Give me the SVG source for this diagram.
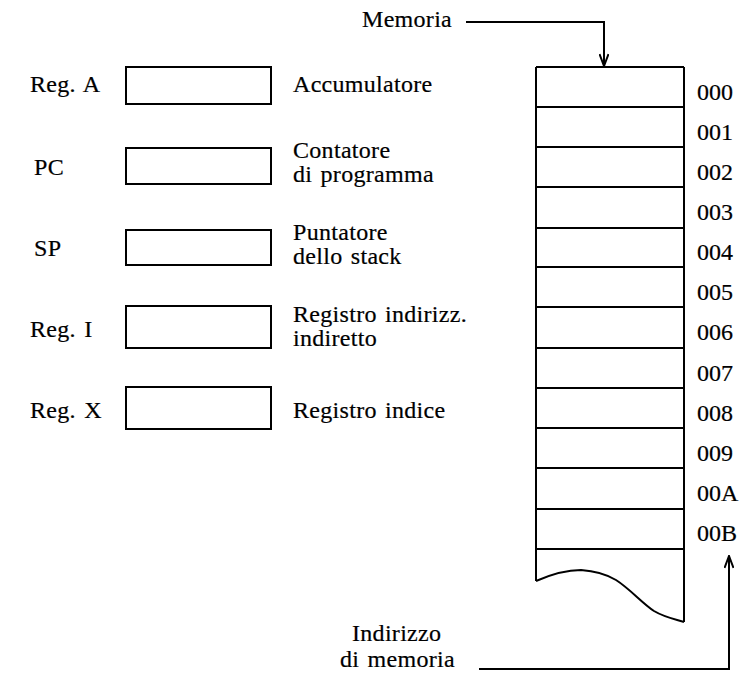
<svg xmlns="http://www.w3.org/2000/svg" width="752" height="691" viewBox="0 0 752 691">
  <style>
    text { font-family: "Liberation Serif", "Times New Roman", serif; font-size: 24px; fill: #000; stroke: #000; stroke-width: 0.2; letter-spacing: 0.3px; word-spacing: 2px; }
    .box { fill: #fff; stroke: #000; stroke-width: 2; }
    .ln { fill: none; stroke: #000; stroke-width: 2; }
    .addr { letter-spacing: 0; }
  </style>
  <defs>
    <marker id="arr" viewBox="0 0 14 10" refX="13" refY="5" markerWidth="14" markerHeight="10" markerUnits="userSpaceOnUse" orient="auto">
      <path d="M1,0.5 L13,5 L1,9.5" fill="none" stroke="#000" stroke-width="2"/>
    </marker>
  </defs>
  <rect width="752" height="691" fill="#fff"/>

  <!-- registers -->
  <g id="reg-a">
    <text x="30" y="92">Reg. A</text>
    <rect class="box" x="126" y="67" width="145" height="37"/>
    <text x="293" y="92">Accumulatore</text>
  </g>
  <g id="reg-pc">
    <text x="34" y="175">PC</text>
    <rect class="box" x="126" y="148" width="145" height="36"/>
    <text x="293" y="158">Contatore</text>
    <text x="293" y="182">di programma</text>
  </g>
  <g id="reg-sp">
    <text x="34" y="256">SP</text>
    <rect class="box" x="126" y="230" width="145" height="35"/>
    <text x="293" y="240">Puntatore</text>
    <text x="293" y="264">dello stack</text>
  </g>
  <g id="reg-i">
    <text x="30" y="337">Reg. I</text>
    <rect class="box" x="126" y="306" width="145" height="42"/>
    <text x="293" y="322">Registro indirizz.</text>
    <text x="293" y="346">indiretto</text>
  </g>
  <g id="reg-x">
    <text x="30" y="418">Reg. X</text>
    <rect class="box" x="126" y="387" width="145" height="42"/>
    <text x="293" y="418">Registro indice</text>
  </g>

  <!-- memory column -->
  <g id="memory">
    <path class="ln" d="M536,67 H684 M536,67 V581 M684,67 V622"/>
    <path class="ln" d="M536,107 H684 M536,147 H684 M536,187 H684 M536,228 H684 M536,267 H684 M536,307 H684 M536,348 H684 M536,388 H684 M536,428 H684 M536,468 H684 M536,509 H684 M536,549 H684"/>
    <path class="ln" d="M536,581 C552,574 566,570 581,570 C596,571 606,574 616,580 C630,589 642,603 654,611 C664,617 674,619 684,622"/>
  </g>

  <g id="addresses">
    <text class="addr" x="697" y="100">000</text>
    <text class="addr" x="697" y="140">001</text>
    <text class="addr" x="697" y="180">002</text>
    <text class="addr" x="697" y="220">003</text>
    <text class="addr" x="697" y="260">004</text>
    <text class="addr" x="697" y="300">005</text>
    <text class="addr" x="697" y="340">006</text>
    <text class="addr" x="697" y="381">007</text>
    <text class="addr" x="697" y="421">008</text>
    <text class="addr" x="697" y="461">009</text>
    <text class="addr" x="697" y="501">00A</text>
    <text class="addr" x="697" y="541">00B</text>
  </g>

  <g id="memoria-label">
    <text x="362" y="27">Memoria</text>
  </g>
  <g id="indirizzo-label">
    <text x="352" y="641">Indirizzo</text>
    <text x="340" y="667">di memoria</text>
  </g>

  <!-- connectors -->
  <g id="connectors">
    <path class="ln" d="M466,22 H604 V66" marker-end="url(#arr)"/>
    <path class="ln" d="M479,669 H729 V556" marker-end="url(#arr)"/>
  </g>
</svg>
